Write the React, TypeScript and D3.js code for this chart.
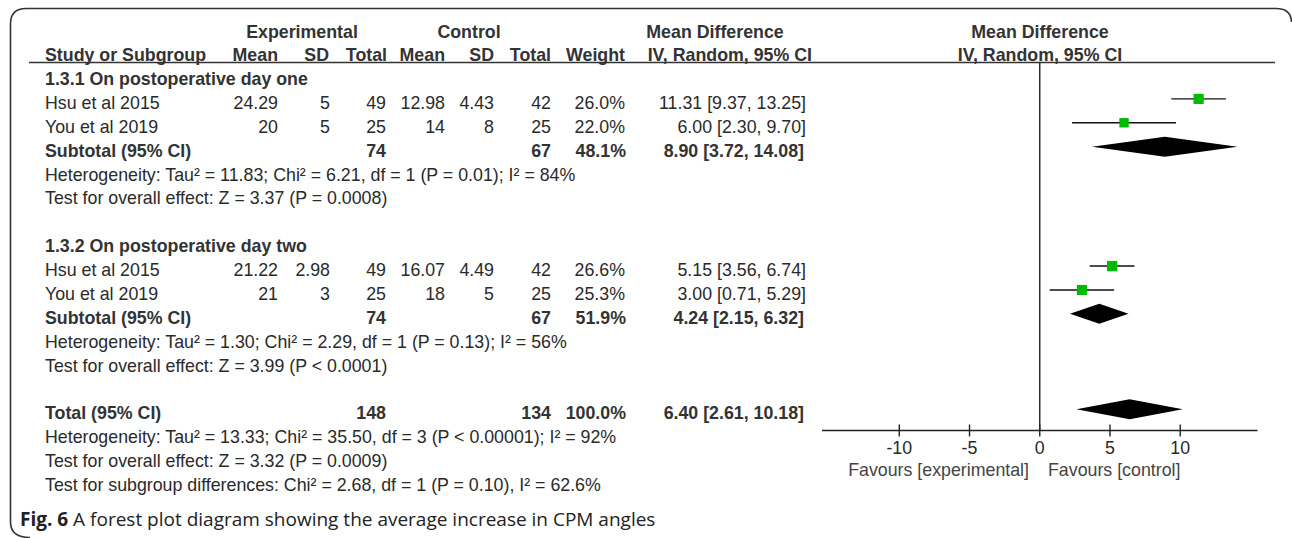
import React from "react";
import * as d3 from "d3";

const studyNames = ["Hsu et al 2015", "You et al 2019", "Hsu et al 2015", "You et al 2019"];
const studyRows = [1, 2, 8, 9];
const expMean = ["24.29", "20", "21.22", "21"];
const expSD = ["5", "5", "2.98", "3"];
const expTotal = [49, 25, 49, 25];
const ctlMean = ["12.98", "14", "16.07", "18"];
const ctlSD = ["4.43", "8", "4.49", "5"];
const ctlTotal = [42, 25, 42, 25];
const weights = [26.0, 22.0, 26.6, 25.3];
const md = [11.31, 6.0, 5.15, 3.0];
const ciLo = [9.37, 2.3, 3.56, 0.71];
const ciHi = [13.25, 9.7, 6.74, 5.29];

const groupTitles = ["1.3.1 On postoperative day one", "1.3.2 On postoperative day two"];
const groupRows = [0, 7];
const subLabels = ["Subtotal (95% CI)", "Subtotal (95% CI)", "Total (95% CI)"];
const subRows = [3, 10, 14];
const subExpTotal = [74, 74, 148];
const subCtlTotal = [67, 67, 134];
const subWeight = ["48.1%", "51.9%", "100.0%"];
const subMd = [8.9, 4.24, 6.4];
const subLo = [3.72, 2.15, 2.61];
const subHi = [14.08, 6.32, 10.18];

const noteRows = [4, 5, 11, 12, 15, 16, 17];
const noteTexts = [
  "Heterogeneity: Tau² = 11.83; Chi² = 6.21, df = 1 (P = 0.01); I² = 84%",
  "Test for overall effect: Z = 3.37 (P = 0.0008)",
  "Heterogeneity: Tau² = 1.30; Chi² = 2.29, df = 1 (P = 0.13); I² = 56%",
  "Test for overall effect: Z = 3.99 (P < 0.0001)",
  "Heterogeneity: Tau² = 13.33; Chi² = 35.50, df = 3 (P < 0.00001); I² = 92%",
  "Test for overall effect: Z = 3.32 (P = 0.0009)",
  "Test for subgroup differences: Chi² = 2.68, df = 1 (P = 0.10), I² = 62.6%",
];

const xTicks = [-10, -5, 0, 5, 10];

const fmt2 = d3.format(".2f");
const ciText = (m: number, l: number, h: number) => `${fmt2(m)} [${fmt2(l)}, ${fmt2(h)}]`;

export default function App() {
  const W = 1292;
  const H = 538;
  const x = d3.scaleLinear().domain([-15.5, 15.5]).range([822, 1257.5]);
  const row = d3.scaleLinear().domain([0, 17]).range([79, 485]);
  const base = (i: number) => row(i) + 6;
  const mark = (i: number) => row(i) - 4;
  const axisY = 430.5;
  const font = "'Liberation Sans', Arial, sans-serif";
  const fs = 17.8;
  const txt = "#2a2a2a";
  const bold = "#333";

  const cols = { em: 278, esd: 330, et: 386, cm: 445, csd: 494, ct: 551, w: 625, ci: 806 };

  return (
    <svg
      width={W}
      height={H}
      style={{ position: "absolute", left: 0, top: 0, background: "#fff" }}
      fontFamily={font}
      fontSize={fs}
    >
      <rect x={0} y={0} width={W} height={H} fill="#fff" />
      <path
        d="M 30 537.5 Q 10.5 537.5 10.5 522 L 10.5 24 Q 10.5 8.5 26 8.5 L 1276 8.5 Q 1291 8.5 1291.5 22"
        fill="none"
        stroke="#333"
        strokeWidth={1.6}
      />

      {/* Header */}
      <g fontWeight="bold" fill={bold}>
        <text x={302} y={38} textAnchor="middle">Experimental</text>
        <text x={469} y={38} textAnchor="middle">Control</text>
        <text x={715} y={38} textAnchor="middle">Mean Difference</text>
        <text x={1040} y={38} textAnchor="middle">Mean Difference</text>
        <text x={45} y={61}>Study or Subgroup</text>
        <text x={cols.em} y={61} textAnchor="end">Mean</text>
        <text x={cols.esd - 1} y={61} textAnchor="end">SD</text>
        <text x={cols.et + 1} y={61} textAnchor="end">Total</text>
        <text x={cols.cm} y={61} textAnchor="end">Mean</text>
        <text x={cols.csd} y={61} textAnchor="end">SD</text>
        <text x={cols.ct} y={61} textAnchor="end">Total</text>
        <text x={cols.w} y={61} textAnchor="end">Weight</text>
        <text x={812} y={61} textAnchor="end">IV, Random, 95% CI</text>
        <text x={1040} y={61} textAnchor="middle">IV, Random, 95% CI</text>
      </g>
      <line x1={29} x2={1275} y1={62.5} y2={62.5} stroke="#333" strokeWidth={1.6} />

      {/* Group titles */}
      {groupTitles.map((t, i) => (
        <text key={"g" + i} x={45} y={base(groupRows[i])} fontWeight="bold" fill={bold}>
          {t}
        </text>
      ))}

      {/* Studies */}
      {studyNames.map((n, i) => {
        const y = base(studyRows[i]);
        return (
          <g key={"s" + i} fill={txt}>
            <text x={45} y={y}>{n}</text>
            <text x={cols.em} y={y} textAnchor="end">{expMean[i]}</text>
            <text x={cols.esd} y={y} textAnchor="end">{expSD[i]}</text>
            <text x={cols.et} y={y} textAnchor="end">{expTotal[i]}</text>
            <text x={cols.cm} y={y} textAnchor="end">{ctlMean[i]}</text>
            <text x={cols.csd} y={y} textAnchor="end">{ctlSD[i]}</text>
            <text x={cols.ct} y={y} textAnchor="end">{ctlTotal[i]}</text>
            <text x={cols.w} y={y} textAnchor="end">{weights[i].toFixed(1)}%</text>
            <text x={cols.ci} y={y} textAnchor="end">{ciText(md[i], ciLo[i], ciHi[i])}</text>
          </g>
        );
      })}

      {/* Subtotals */}
      {subLabels.map((l, i) => {
        const y = base(subRows[i]);
        return (
          <g key={"t" + i} fontWeight="bold" fill={bold}>
            <text x={45} y={y}>{l}</text>
            <text x={cols.et} y={y} textAnchor="end">{subExpTotal[i]}</text>
            <text x={cols.ct} y={y} textAnchor="end">{subCtlTotal[i]}</text>
            <text x={cols.w + 1} y={y} textAnchor="end">{subWeight[i]}</text>
            <text x={cols.ci - 2} y={y} textAnchor="end">{ciText(subMd[i], subLo[i], subHi[i])}</text>
          </g>
        );
      })}

      {/* Notes */}
      {noteTexts.map((t, i) => (
        <text key={"n" + i} x={45} y={base(noteRows[i])} fill={txt}>
          {t}
        </text>
      ))}

      {/* Forest plot */}
      <line x1={x(0)} x2={x(0)} y1={62.5} y2={axisY} stroke="#222" strokeWidth={1.4} />
      {studyNames.map((_, i) => {
        const y = mark(studyRows[i]);
        const s = 2 * Math.sqrt(weights[i]);
        return (
          <g key={"m" + i}>
            <line x1={x(ciLo[i])} x2={x(ciHi[i])} y1={y} y2={y} stroke="#111" strokeWidth={1.4} />
            <rect x={x(md[i]) - s / 2} y={y - s / 2} width={s} height={s} fill="#00bb00" />
          </g>
        );
      })}
      {subLabels.map((_, i) => {
        const y = mark(subRows[i]);
        const h = 10;
        const p = `M ${x(subLo[i])} ${y} L ${x(subMd[i])} ${y - h} L ${x(subHi[i])} ${y} L ${x(subMd[i])} ${y + h} Z`;
        return <path key={"d" + i} d={p} fill="#000" />;
      })}

      {/* Axis */}
      <line x1={822} x2={1257.5} y1={axisY} y2={axisY} stroke="#222" strokeWidth={1.4} />
      {xTicks.map((t) => (
        <g key={"k" + t}>
          <line x1={x(t)} x2={x(t)} y1={axisY - 6} y2={axisY + 6} stroke="#222" strokeWidth={1.4} />
          <text x={x(t)} y={454} textAnchor="middle" fill={txt}>
            {t}
          </text>
        </g>
      ))}
      <text x={1029} y={476} textAnchor="end" fill="#444">Favours [experimental]</text>
      <text x={1048} y={476} fill="#444">Favours [control]</text>

      {/* Caption */}
      <text x={20} y={526} fontFamily="'Open Sans', 'Noto Sans', sans-serif" fontSize={19} fill="#222">
        <tspan fontWeight="bold">Fig. 6</tspan>
        <tspan> A forest plot diagram showing the average increase in CPM angles</tspan>
      </text>
    </svg>
  );
}
